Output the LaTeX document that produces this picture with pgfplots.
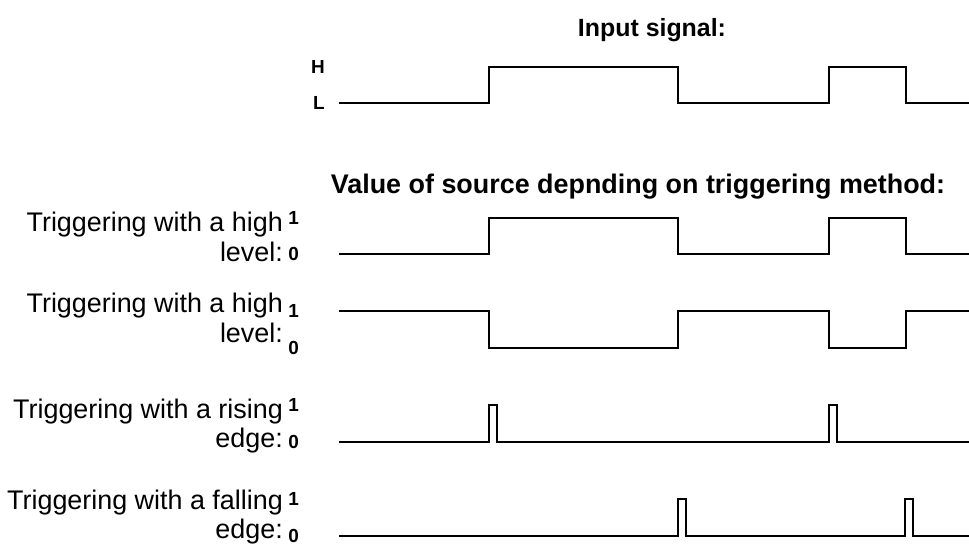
\documentclass[border=0pt]{standalone}
\usepackage{pgfplots}
\pgfplotsset{compat=1.18}
\usepackage{fontspec}
\setmainfont{Liberation Sans}
\pgfplotsset{
  sig/.style={
    scale only axis, width=630bp, height=36bp,
    xmin=339, xmax=969, ymin=0, ymax=1,
    axis line style={draw=none}, xtick=\empty, ytick={0,1},
    major tick length=0pt, clip=false,
    yticklabel style={font=\fontsize{19}{20}\selectfont\bfseries, inner sep=0pt, anchor=east},
  },
  wave/.style={const plot, black, line width=1.6bp, no marks, line join=miter},
}
\begin{document}
\begin{tikzpicture}[x=1bp,y=1bp]
\useasboundingbox (0,0) rectangle (969,545);
\node[anchor=base, font=\fontsize{25}{28}\selectfont\bfseries] at (652,508) {Input signal:};
\node[anchor=base, font=\fontsize{27}{30}\selectfont\bfseries] at (638,351) {Value of source depnding on triggering method:};
% panel 1
\begin{axis}[sig, at={(339bp,442bp)}, anchor=south west, yticklabels={L,H}, yticklabel style={xshift=-14bp}]
\addplot[wave] coordinates {(339,0) (489,1) (678,0) (829,1) (906,0) (969,0)};
\end{axis}
% panel 2
\begin{axis}[sig, at={(339bp,291bp)}, anchor=south west, yticklabels={0,1}, yticklabel style={xshift=-40bp}]
\addplot[wave] coordinates {(339,0) (489,1) (678,0) (829,1) (906,0) (969,0)};
\end{axis}
% panel 3
\begin{axis}[sig, at={(339bp,197bp)}, anchor=south west, height=37bp, yticklabels={0,1}, yticklabel style={xshift=-40bp}]
\addplot[wave] coordinates {(339,1) (489,0) (678,1) (829,0) (906,1) (969,1)};
\end{axis}
% panel 4
\begin{axis}[sig, at={(339bp,103bp)}, anchor=south west, height=37bp, yticklabels={0,1}, yticklabel style={xshift=-40bp}]
\addplot[wave] coordinates {(339,0) (489,1) (497,0) (829,1) (837,0) (969,0)};
\end{axis}
% panel 5
\begin{axis}[sig, at={(339bp,9bp)}, anchor=south west, height=37bp, yticklabels={0,1}, yticklabel style={xshift=-40bp}]
\addplot[wave] coordinates {(339,0) (678,1) (686,0) (905,1) (913,0) (969,0)};
\end{axis}
\tikzset{lab/.style={anchor=east, align=right, font=\fontsize{27}{30}\selectfont, inner sep=0pt}}
\node[lab] at (283,308) {Triggering with a high\\level:};
\node[lab] at (283,227) {Triggering with a high\\level:};
\node[lab] at (283,119) {Triggering with a rising\\edge:};
\node[lab] at (283,28) {Triggering with a falling\\edge:};
\end{tikzpicture}
\end{document}
